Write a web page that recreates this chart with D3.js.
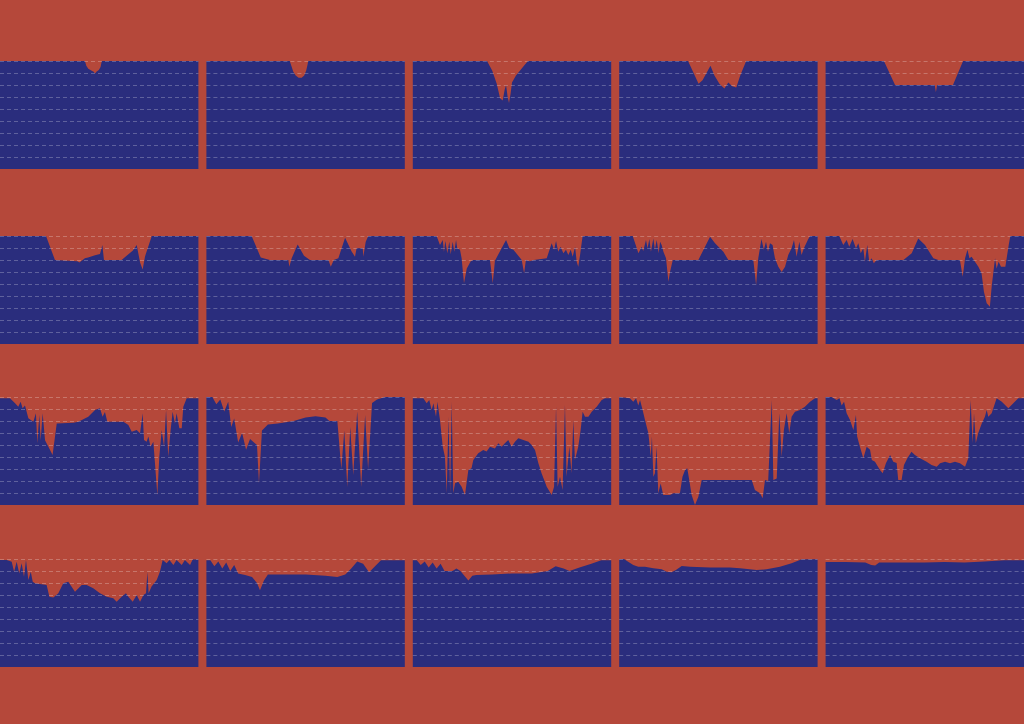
<!DOCTYPE html>
<html>
<head>
<meta charset="utf-8">
<script src="https://cdn.jsdelivr.net/npm/d3@7"></script>
<style>
  body { margin: 0; background: #b5483a; }
  svg { display: block; }
</style>
</head>
<body>
<svg id="chart" width="1024" height="724"></svg>
<script>
// each series: [position across the panel (0-100), value (0-90)]
const r1c1 = [[0,90],[42.8,90],[43.5,86],[44.5,83.5],[46,82],[47.2,81],[47.9,79.5],[48.6,81],[49.8,82.5],[50.7,85],[51.3,90],[100,90]];
const r1c2 = [[0,90],[42,90],[42.8,86],[43.8,81],[45,78],[46.5,76],[48,76],[49.3,78],[50.3,82],[51,87],[51.3,90],[100,90]];
const r1c3 = [[0,90],[37.4,90],[40,82],[42.3,71],[44,59],[45.3,57],[46.3,66],[47,70],[47.8,60],[48.5,55],[49.3,63],[50,72],[52,78],[55,84],[58,90],[100,90]];
const r1c4 = [[0,90],[34.7,90],[37.5,80],[40,71],[42,74],[44,80],[46,86],[48,78],[50.5,71],[53,67],[55,72],[57,69],[59,68],[61,78],[64,90],[100,90]];
const r1c5 = [[0,90],[29.4,90],[35,70],[55,70],[55.6,64],[56.2,70],[64.2,70],[69.3,90],[100,90]];

const r2c1 = [[0,90],[23.2,90],[27.7,70],[39,69],[40,68],[42.8,71.5],[44.4,72],[47.9,74],[50.4,75],[51.6,82.5],[52.4,70],[61.3,70],[67,78],[68.9,82.5],[70.6,68],[71.9,62],[73.1,73],[76.5,90],[100,90]];
const r2c2 = [[0,90],[22.8,90],[27.4,72],[32,70],[41.3,70],[41.8,64.4],[43,71.4],[46,83],[49.2,73.6],[52.2,70],[61.5,70],[62.7,64.4],[64.2,70],[66.5,71.4],[69.9,88.6],[73.2,77],[74.9,72.8],[75.7,79.7],[78.8,79.7],[79.1,72.8],[80.3,85.3],[81.6,90],[100,90]];
const r2c3 = [[0,90],[12,90],[13.7,82.5],[15.1,86.7],[15.7,76.9],[16.4,85.8],[17.4,75.6],[18.4,85.3],[19.1,74.7],[20.1,85.3],[20.9,76.9],[21.8,86.7],[22.4,79.7],[23.8,78.6],[24.6,71.4],[25.8,50.6],[27.2,63],[29.2,69],[30.5,70],[38.9,70],[40.3,50.6],[41.4,69.4],[47,86.7],[48.7,79.7],[50.7,78.6],[54.9,70],[56.1,59],[57,70],[59,69],[61,70],[67.5,71.4],[70,84],[71.2,78.6],[72.2,85.8],[73.3,76.9],[74.5,81.1],[75.9,75.6],[77.2,78.6],[78.4,74.2],[79.6,78.6],[80.6,72.8],[81.8,81.1],[82.6,68.6],[83.4,64.4],[84.3,74.2],[85.6,90],[100,90]];
const r2c4 = [[0,90],[6.8,90],[9.7,75.6],[11.3,81.1],[12.1,77.5],[13.5,86.7],[14.3,79.7],[15.2,87.5],[16,76.9],[17.2,88],[18,78.6],[18.9,86.7],[19.9,75.6],[20.6,85.3],[21.4,82.5],[22.3,76.9],[23.6,71.4],[24.8,51.9],[25.6,60],[27,70],[39.9,70],[45.8,89.4],[48.3,83.9],[52.5,76.9],[55,70],[67.6,70],[69,49.2],[70.1,71.4],[71.7,87.5],[72.9,78.6],[74,85.3],[75,76.9],[76,84],[77.3,82.5],[78.5,71.4],[80.2,64.4],[81.9,60],[83.6,64.4],[85.2,74.2],[86.9,79.7],[88.1,86.7],[89.4,72.8],[90.8,85.3],[91.9,74.2],[93.1,79.7],[95.3,87.5],[96.2,90],[100,90]];
const r2c5 = [[0,90],[6.9,90],[8.9,82.5],[10.6,86.7],[11.9,81.1],[13.6,87.5],[15.3,79.7],[16.5,84],[17.7,75.6],[19,79.7],[19.8,68.6],[21,82.5],[22,68.6],[23.2,71.4],[24.3,67.2],[25.7,70],[39.2,70],[43.4,75.6],[46.7,88],[50.1,82.5],[54.3,71.4],[56.8,70],[67.7,70],[69.1,56.1],[70.3,71.4],[71.5,78.6],[72.5,71.4],[73.6,72.8],[75.3,68.6],[77,64.4],[78.6,58.9],[79.8,43.6],[81.2,33.9],[82.8,31.1],[83.7,47.8],[84.5,58.9],[85.4,71.4],[86.2,63],[87.2,68.6],[88.4,64.4],[90.6,64.4],[92.3,82.5],[93.1,90],[100,90]];

const r3c1 = [[0,89],[5,89],[7.6,84.7],[9.2,81.9],[10.4,86],[11.4,80.6],[12.6,83],[14.3,72.2],[16.8,69.4],[18.1,76.4],[18.8,51.4],[19.8,75],[20.5,54],[21.5,76.4],[22.7,54],[24.4,48.6],[26.5,41.7],[28.6,68],[37,68.6],[39.5,69.4],[44.5,73.6],[47.9,79.2],[50.4,80.6],[51.7,73.6],[52.9,77.5],[54.1,69.4],[62.2,69.4],[64.7,66.7],[66.4,61.1],[68.9,62.5],[70.6,59.7],[71.9,76.4],[72.6,54.2],[73.9,52.8],[74.8,57],[75.9,48.6],[77.3,52.8],[79.3,8.3],[80.3,40.3],[81.5,62.5],[82.7,48.6],[83.7,79.2],[84.8,40.3],[86,62.5],[87,77.8],[88.2,68],[89,76.4],[90.4,63.9],[91.6,63.9],[92.4,81.9],[94.1,89],[100,89]];
const r3c2 = [[0,90],[3,90],[5,84],[7,88],[9,78],[11,86],[12.5,65],[14,72],[16,52],[18,60],[20,46],[22,55],[24,52],[25.5,50],[26.5,18],[28,62],[31,67],[36,68],[44,70],[50,73],[55,74],[60,73],[62,70],[66,70],[68,30],[69.5,62],[71,15],[72.5,65],[74,25],[76,78],[78,15],[80,75],[81.5,30],[83.5,85],[86,88],[90,90],[100,90]];
const r3c3 = [[0,89],[5.3,89],[7,84.7],[8.3,87.5],[9.5,79.2],[10.4,84.7],[11.7,73.6],[12.4,86],[13.7,70.8],[15.1,48.6],[16.2,40.3],[17.1,9.7],[18,73.6],[18.8,9.7],[19.6,86],[20.4,9.7],[21.3,18.1],[22.9,19.4],[24.6,15.3],[26.3,8.3],[28,29.2],[29.6,30.6],[30.5,37.5],[33,43.1],[35.5,45.8],[37.2,44.5],[38.9,48.6],[41.4,47],[43.1,51.4],[44.8,48.6],[46.4,51.4],[48.1,54.2],[49.8,48.6],[51.5,52.8],[53.2,55.6],[55.7,54.2],[58.3,52.8],[59.9,50],[61.6,45.8],[63.3,34.7],[64.9,26.4],[67.5,15.3],[70,8.3],[71.2,15.3],[72.2,81.9],[73,15.3],[74.2,23.6],[75.5,12.5],[76.7,83.3],[77.5,23.6],[78.9,48.6],[80,26.4],[80.9,70.8],[81.7,37.5],[83.4,48.6],[84.6,62.5],[85.6,77.8],[86.8,73.6],[88.5,73.6],[90.2,77.8],[92.7,81.9],[95.2,87.5],[96.9,89],[100,89]];
const r3c4 = [[0,90],[5.4,89],[7.1,86],[8.5,89],[9.6,83],[10.5,87.5],[11.8,79.2],[13,70.8],[14.7,59.7],[15.9,40.3],[16.5,57],[17.2,23.6],[18,26.4],[18.8,48.6],[19.7,9.7],[20.9,18],[22.2,8.3],[25.6,8.3],[27.3,9.7],[30.6,9.7],[31.9,23.6],[33.2,29.2],[34.3,30.6],[35.3,20.8],[36.5,8.3],[38.2,0],[39.9,6.9],[41.6,20.8],[44.1,20.8],[64.2,20.8],[66.8,20.8],[68.4,12.5],[71,9.7],[72.3,5.6],[73.5,20.8],[75.1,20],[76.9,87.5],[77.7,20.8],[79.4,22],[80.7,76.4],[81.9,40.3],[83,62.5],[84.4,76.4],[85.7,59.7],[86.9,73.6],[88.6,77.8],[91.1,79.2],[93.6,81.9],[96.2,86],[98.7,89],[100,89]];
const r3c5 = [[0,90],[3,90],[5.6,87.5],[7,89],[8.1,83],[9.3,86],[10.6,76.4],[12.3,70.8],[14,62.5],[15.3,75],[15.9,57],[17.3,48.6],[19,38.9],[20.7,48.6],[22.4,46],[23.3,37.5],[24.9,36.1],[27.4,29.2],[28.8,26.4],[30.4,34.7],[32.5,41.7],[34.1,36],[35.8,35],[36.6,20.8],[38.3,20.8],[39.5,33.3],[41.2,38.9],[43.3,44.4],[45,41.7],[47.6,38.9],[50.9,36.1],[53.4,33.3],[56,31.9],[57.7,34.7],[60.2,36.1],[62.7,34.7],[65.2,36.1],[67.7,34.7],[70.3,31.9],[71.9,38.9],[73.1,87.5],[74.1,51.4],[74.8,76.4],[75.7,51.4],[76.9,59.7],[78.7,68],[80.3,73.6],[81.2,79.2],[82,73.6],[83.7,76.4],[86.2,89],[88.8,86],[92.1,80.6],[94.6,84.7],[97.1,89],[100,89]];

const r4c1 = [[0,89.2],[3.4,89.2],[5.9,87.8],[7.1,79.4],[8.4,87.8],[9.7,78],[10.9,86.4],[12.1,75.3],[13.1,89.2],[14.3,72.5],[15.5,79.4],[16.5,71.1],[17.6,69.7],[23.5,68.3],[24.9,58.6],[26.9,58],[29.4,61.4],[31.9,69.7],[34.4,71.1],[36.1,66.9],[37.8,62.8],[41.2,68.3],[43.7,68.3],[47,65.6],[50.4,61.4],[53.8,58.6],[57.1,57.2],[58.8,54.4],[61.3,58.6],[63.5,61.4],[64.7,58.6],[66.9,54.4],[68.9,60],[70.6,54.4],[72.3,60],[73.6,61.4],[74.3,79.4],[74.9,61.4],[76.4,67],[79,72.5],[80.6,79.4],[82,89.2],[84,86.4],[85.4,89.2],[87.4,85],[89,89.2],[91.6,85],[93.2,89.2],[95.8,85],[97.1,89.5],[100,89.5]];
const r4c2 = [[0,89],[2,89],[4,84],[6,88],[8,82],[10,87],[12,80],[14,85],[16,78],[19.5,76.7],[23,75],[25.5,70],[27,64],[29,72],[31,77],[40,77],[50,77],[60,76],[66,75],[70,77],[73,82],[76,88],[79,86],[82,79],[85,84],[88,89],[100,89]];
const r4c3 = [[0,89],[2,89],[4,85],[6,88],[8,83],[10,87],[12,82],[14,86],[16,80],[18,80],[20,80],[22,82],[24,80],[26,76],[28,72],[30,76],[32,76.7],[40,77],[50,78],[60,78],[68,80],[72,84],[76,82],[79,80],[84,83],[90,86],[95,89],[100,89]];
const r4c4 = [[0,89.7],[2.4,90],[4.5,87.8],[7.1,85],[9.6,83.6],[13,83.6],[17.2,82.2],[21.4,81.4],[23.9,79.4],[26.4,78.9],[28.6,80.8],[31.5,84.2],[35.7,83.6],[45.8,83],[55.8,83],[60.9,82.2],[69.3,80.8],[74.3,81.4],[81,83.6],[86.9,86.4],[92,89.7],[96.2,89.7],[100,89.7]];
const r4c5 = [[0,87.5],[10,87.5],[20,87],[23,85],[25,84.5],[27,87],[35,87],[50,87],[60,87.5],[70,87],[80,88],[90,89],[100,89]];

const rows = [
  [r1c1, r1c2, r1c3, r1c4, r1c5],
  [r2c1, r2c2, r2c3, r2c4, r2c5],
  [r3c1, r3c2, r3c3, r3c4, r3c5],
  [r4c1, r4c2, r4c3, r4c4, r4c5]
];
const gridTicks = [10, 20, 30, 40, 50, 60, 70, 80, 90];

const width = 1024, height = 724;
const rowTop = [61, 236, 397, 559];
const panelH = 108;
const orange = "#b5483a", blue = "#2a2d7d";

const svg = d3.select("#chart");
svg.append("rect").attr("width", width).attr("height", height).attr("fill", orange);

const col = d3.scaleBand().domain(d3.range(5)).range([0, width]).paddingInner(0.0388);
const x = d3.scaleLinear().domain([0, 100]).range([0, col.bandwidth()]);
const y = d3.scaleLinear().domain([0, 90]).range([panelH, 0]);

const area = d3.area()
  .x(d => x(d[0]))
  .y0(panelH)
  .y1(d => y(d[1]));

rows.forEach((row, i) => {
  row.forEach((data, j) => {
    const g = svg.append("g")
      .attr("transform", "translate(" + col(j) + "," + rowTop[i] + ")");

    g.append("path")
      .datum(data)
      .attr("fill", blue)
      .attr("d", area);

    // dashed grid over the area
    const grid = g.append("g")
      .call(d3.axisLeft(y).tickValues(gridTicks).tickSize(-col.bandwidth()).tickFormat(""));
    grid.select(".domain").remove();
    grid.selectAll("line")
      .attr("stroke", "#fff")
      .attr("stroke-opacity", 0.25)
      .attr("stroke-dasharray", "4,3");
  });
});
</script>
</body>
</html>
